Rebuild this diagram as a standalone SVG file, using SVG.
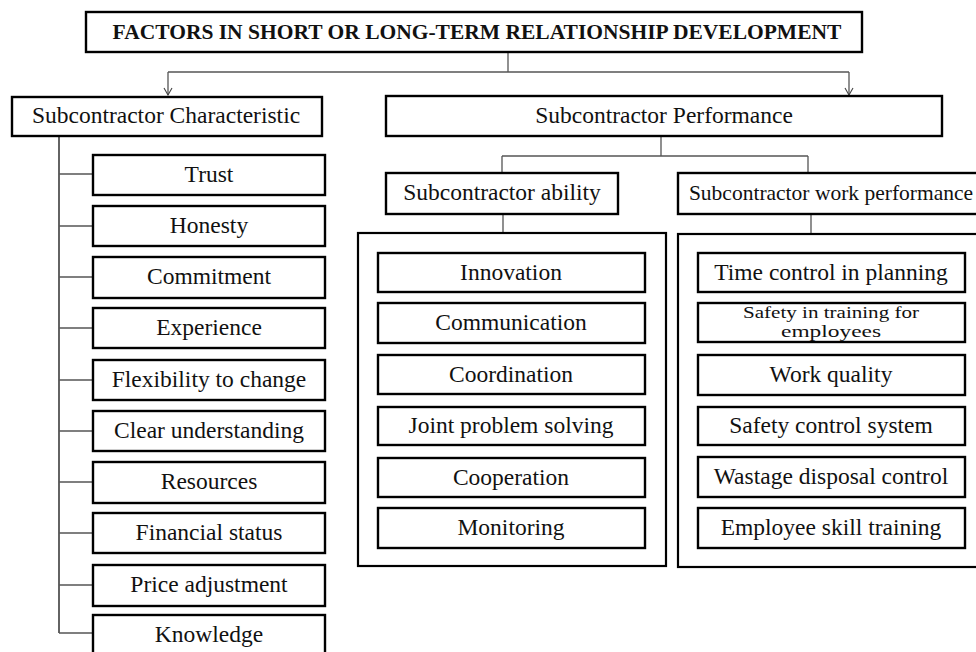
<svg xmlns="http://www.w3.org/2000/svg" width="976" height="652" viewBox="0 0 976 652">
  <defs>
    <!-- open V arrowhead, tip at the path end -->
    <marker id="arrow" viewBox="0 0 10 10" refX="9" refY="5" markerWidth="10" markerHeight="10" markerUnits="userSpaceOnUse" orient="auto">
      <path d="M2,1 L9,5 L2,9" fill="none" stroke="#444" stroke-width="1.1"/>
    </marker>
  </defs>
  <style>
    .box { fill: #fff; stroke: #000; stroke-width: 2.4; }
    .frame { fill: none; stroke: #000; stroke-width: 2.2; }
    .lbl { font-family: "Liberation Serif", "Times New Roman", serif; font-size: 23.5px; fill: #111; text-anchor: middle; }
    .title { font-family: "Liberation Serif", "Times New Roman", serif; font-size: 21.5px; font-weight: bold; fill: #111; text-anchor: middle; }
    .small { font-size: 17px; }
    .conn { fill: none; stroke: #555; stroke-width: 1.3; }
    .trunk { fill: none; stroke: #222; stroke-width: 1.4; }
  </style>

  <rect width="976" height="652" fill="#fff"/>

  <!-- connectors -->
  <g id="connectors">
    <path class="conn" d="M508,52 V72"/>
    <path class="conn" d="M168,72 H849"/>
    <path class="conn" d="M168,72 V95" marker-end="url(#arrow)"/>
    <path class="conn" d="M849,72 V95" marker-end="url(#arrow)"/>
    <path class="conn" d="M661,136 V156 M502,156 H808 M502,156 V173 M808,156 V173"/>
    <path class="conn" d="M503,214 V233 M811,214 V234"/>
    <path class="trunk" d="M59,136 V633"/>
    <path class="conn" d="M59,174 H93 M59,226 H93 M59,277 H93 M59,328 H93 M59,380 H93 M59,431 H93 M59,482 H93 M59,533 H93 M59,585 H93 M59,633 H93"/>
  </g>

  <!-- root -->
  <g id="root">
    <rect class="box" x="86" y="12" width="776" height="40"/>
    <text class="title" x="477" y="39">FACTORS IN SHORT OR LONG-TERM RELATIONSHIP DEVELOPMENT</text>
  </g>

  <!-- characteristic branch -->
  <g id="characteristic">
    <rect class="box" x="12" y="97" width="310" height="39"/>
    <text class="lbl" x="166" y="123">Subcontractor Characteristic</text>
  </g>
  <g id="trust"><rect class="box" x="93" y="155" width="232" height="40"/><text class="lbl" x="209" y="182">Trust</text></g>
  <g id="honesty"><rect class="box" x="93" y="206" width="232" height="40"/><text class="lbl" x="209" y="233">Honesty</text></g>
  <g id="commitment"><rect class="box" x="93" y="257" width="232" height="41"/><text class="lbl" x="209" y="284">Commitment</text></g>
  <g id="experience"><rect class="box" x="93" y="308" width="232" height="40"/><text class="lbl" x="209" y="335">Experience</text></g>
  <g id="flexibility"><rect class="box" x="93" y="360" width="232" height="40"/><text class="lbl" x="209" y="387">Flexibility to change</text></g>
  <g id="understanding"><rect class="box" x="93" y="411" width="232" height="40"/><text class="lbl" x="209" y="438">Clear understanding</text></g>
  <g id="resources"><rect class="box" x="93" y="462" width="232" height="41"/><text class="lbl" x="209" y="489">Resources</text></g>
  <g id="financial"><rect class="box" x="93" y="513" width="232" height="40"/><text class="lbl" x="209" y="540">Financial status</text></g>
  <g id="price"><rect class="box" x="93" y="565" width="232" height="41"/><text class="lbl" x="209" y="592">Price adjustment</text></g>
  <g id="knowledge"><rect class="box" x="93" y="615" width="232" height="42"/><text class="lbl" x="209" y="642">Knowledge</text></g>

  <!-- performance branch -->
  <g id="performance">
    <rect class="box" x="386" y="96" width="556" height="40"/>
    <text class="lbl" x="664" y="123">Subcontractor Performance</text>
  </g>
  <g id="ability">
    <rect class="box" x="386" y="173" width="232" height="41"/>
    <text class="lbl" x="502" y="200">Subcontractor ability</text>
  </g>
  <g id="work-performance">
    <rect class="box" x="678" y="173" width="306" height="41"/>
    <text class="lbl" x="831" y="200" style="font-size:21.5px">Subcontractor work performance</text>
  </g>

  <!-- ability group -->
  <g id="ability-group">
    <rect class="frame" x="358" y="233" width="308" height="333"/>
  </g>
  <g id="innovation"><rect class="box" x="378" y="253" width="267" height="39"/><text class="lbl" x="511" y="280">Innovation</text></g>
  <g id="communication"><rect class="box" x="378" y="303" width="267" height="40"/><text class="lbl" x="511" y="330">Communication</text></g>
  <g id="coordination"><rect class="box" x="378" y="355" width="267" height="39"/><text class="lbl" x="511" y="382">Coordination</text></g>
  <g id="joint"><rect class="box" x="378" y="407" width="267" height="38"/><text class="lbl" x="511" y="433">Joint problem solving</text></g>
  <g id="cooperation"><rect class="box" x="378" y="458" width="267" height="39"/><text class="lbl" x="511" y="485">Cooperation</text></g>
  <g id="monitoring"><rect class="box" x="378" y="508" width="267" height="40"/><text class="lbl" x="511" y="535">Monitoring</text></g>

  <!-- work performance group -->
  <g id="work-group">
    <rect class="frame" x="678" y="234" width="306" height="333"/>
  </g>
  <g id="time-control"><rect class="box" x="698" y="253" width="267" height="39"/><text class="lbl" x="831" y="280">Time control in planning</text></g>
  <g id="safety-training"><rect class="box" x="698" y="303" width="267" height="39"/>
    <text class="lbl small" x="831" y="318" textLength="176" lengthAdjust="spacingAndGlyphs">Safety in training for</text>
    <text class="lbl small" x="831" y="337" textLength="100" lengthAdjust="spacingAndGlyphs">employees</text>
  </g>
  <g id="work-quality"><rect class="box" x="698" y="355" width="267" height="40"/><text class="lbl" x="831" y="382">Work quality</text></g>
  <g id="safety-control"><rect class="box" x="698" y="407" width="267" height="38"/><text class="lbl" x="831" y="433">Safety control system</text></g>
  <g id="wastage"><rect class="box" x="698" y="457" width="267" height="40"/><text class="lbl" x="831" y="484">Wastage disposal control</text></g>
  <g id="skill-training"><rect class="box" x="698" y="508" width="267" height="40"/><text class="lbl" x="831" y="535">Employee skill training</text></g>
</svg>
